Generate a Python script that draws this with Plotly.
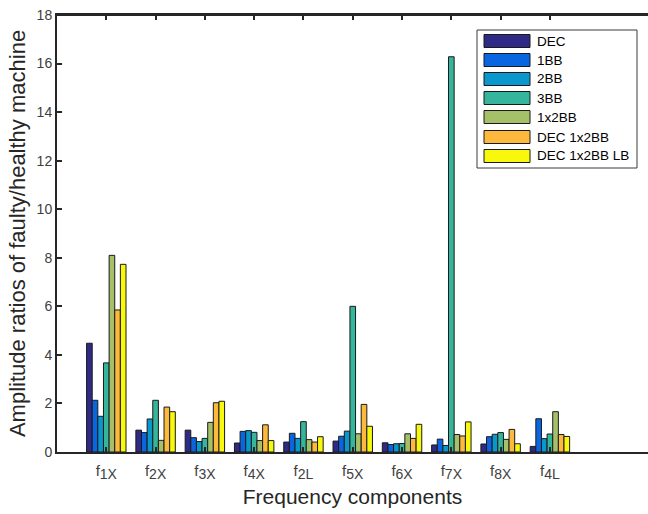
import plotly.graph_objects as go

sub_style = "<sub><span style='font-size:14px'>{}</span></sub>"
categories = ["f" + sub_style.format(s) for s in ["1X", "2X", "3X", "4X", "2L", "5X", "6X", "7X", "8X", "4L"]]
positions = [1, 2, 3, 4, 5, 6, 7, 8, 9, 10]

series_names = ["DEC", "1BB", "2BB", "3BB", "1x2BB", "DEC 1x2BB", "DEC 1x2BB LB"]
dec        = [4.48, 0.90, 0.90, 0.37, 0.41, 0.45, 0.38, 0.29, 0.33, 0.23]
bb1        = [2.13, 0.80, 0.59, 0.85, 0.77, 0.65, 0.31, 0.53, 0.63, 1.37]
bb2        = [1.47, 1.36, 0.43, 0.88, 0.56, 0.86, 0.34, 0.27, 0.73, 0.55]
bb3        = [3.67, 2.13, 0.56, 0.81, 1.25, 6.00, 0.35, 16.28, 0.80, 0.74]
bb1x2      = [8.10, 0.48, 1.22, 0.47, 0.51, 0.75, 0.75, 0.72, 0.52, 1.66]
dec_bb1x2  = [5.85, 1.85, 2.03, 1.12, 0.41, 1.96, 0.56, 0.66, 0.93, 0.72]
dec_bb1x2_lb = [7.73, 1.66, 2.09, 0.47, 0.63, 1.06, 1.14, 1.24, 0.34, 0.64]
series_values = [dec, bb1, bb2, bb3, bb1x2, dec_bb1x2, dec_bb1x2_lb]
colors = ["#2f2a86", "#0a66e0", "#0a97cb", "#35b59b", "#a5c069", "#fcb93c", "#f8f80c"]

yticks = [0, 2, 4, 6, 8, 10, 12, 14, 16, 18]

W, H = 648, 514
ML, MR, MT, MB = 57, 0, 15, 62
PW, PH = W - ML - MR, H - MT - MB

def px(x):
    return (x - ML) / PW

def py(y):
    return (H - MB - y) / PH

fig = go.Figure()
for name, vals, col in zip(series_names, series_values, colors):
    fig.add_trace(go.Bar(
        x=positions, y=vals, name=name,
        marker=dict(color=col, line=dict(color="#1a1a1a", width=1)),
        showlegend=False,
    ))

axis_col = "#262626"
fig.update_layout(
    width=W, height=H,
    margin=dict(l=ML, r=MR, t=MT, b=MB, pad=0, autoexpand=False),
    paper_bgcolor="white", plot_bgcolor="white",
    barmode="group", bargap=0.2, bargroupgap=0.0,
    font=dict(family="Liberation Sans, Arial, sans-serif", color=axis_col),
    xaxis=dict(
        range=[0, 11.99], tickvals=positions, ticktext=categories,
        ticks="inside", ticklen=5, tickwidth=1.5, tickcolor=axis_col,
        showline=True, linecolor=axis_col, linewidth=2, mirror="ticks",
        showgrid=False, zeroline=False, automargin=False,
        ticklabelstandoff=4,
        tickfont=dict(size=15, color="#404040"),
        title=dict(text="Frequency components", font=dict(size=21, color=axis_col), standoff=8),
    ),
    yaxis=dict(
        range=[0, 18], tickvals=yticks,
        ticks="inside", ticklen=5, tickwidth=1.5, tickcolor=axis_col,
        showline=True, linecolor=axis_col, linewidth=2, mirror=False,
        showgrid=False, zeroline=False, automargin=False,
        tickfont=dict(size=14, color="#404040"),
        title=dict(text="Amplitude ratios of faulty/healthy machine", font=dict(size=22, color=axis_col), standoff=5),
    ),
)

# top border (box) and custom legend (MATLAB style wide patches)
shapes = [dict(type="line", xref="paper", yref="paper", x0=0, x1=1, y0=1, y1=1,
               line=dict(color=axis_col, width=2), layer="above"),
          dict(type="rect", xref="paper", yref="paper",
               x0=px(477), x1=px(637), y0=py(168), y1=py(30),
               line=dict(color="#3a3a3a", width=1), fillcolor="white", layer="above")]
annotations = []
row_y = [41, 60, 79, 98, 117, 137, 156]
for name, col, ry in zip(series_names, colors, row_y):
    shapes.append(dict(type="rect", xref="paper", yref="paper",
                       x0=px(484), x1=px(530), y0=py(ry + 6.5), y1=py(ry - 6.5),
                       line=dict(color="#1a1a1a", width=1), fillcolor=col, layer="above"))
    annotations.append(dict(xref="paper", yref="paper", x=px(535), y=py(ry),
                            text=name, showarrow=False, xanchor="left", yanchor="middle",
                            font=dict(size=13.5, color="#000000")))
fig.update_layout(shapes=shapes, annotations=annotations)

fig.write_html("out.html", config={"displayModeBar": False},
               post_script="document.body.style.margin='0';document.body.style.overflow='hidden';")
